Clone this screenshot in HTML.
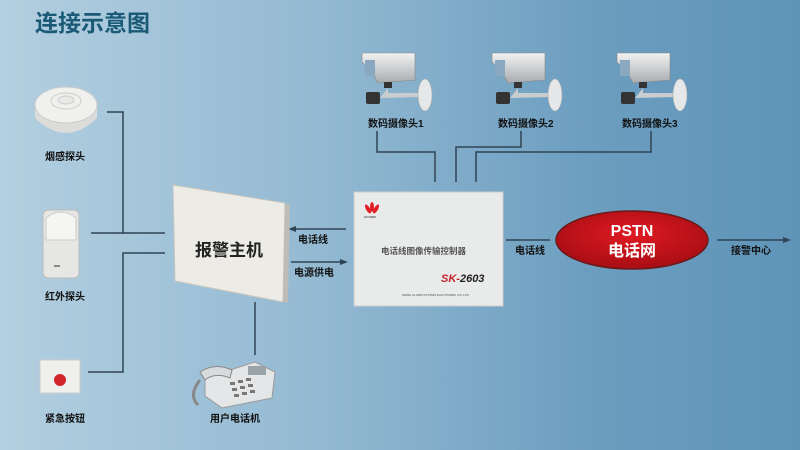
<!DOCTYPE html>
<html><head><meta charset="utf-8"><style>
html,body{margin:0;padding:0}
body{width:800px;height:450px;overflow:hidden;background:linear-gradient(90deg,#b3cfe0 0%,#93b9d2 40%,#6b9dbf 75%,#5f94b8 100%)}
svg{display:block}
text{font-family:"Liberation Sans","Noto Sans CJK SC",sans-serif;font-weight:bold}
</style></head><body>
<svg width="800" height="450" viewBox="0 0 800 450" xmlns="http://www.w3.org/2000/svg">
<defs>
<linearGradient id="cam" x1="0" y1="0" x2="0" y2="1"><stop offset="0" stop-color="#f2f2f2"/><stop offset="1" stop-color="#a8acb0"/></linearGradient>
<radialGradient id="red" cx="0.5" cy="0.4" r="0.6"><stop offset="0" stop-color="#e01a22"/><stop offset="1" stop-color="#a80d14"/></radialGradient>
<g id="camera">
<polygon points="2,3 55,3 55,30 18,33 12,22 2,12" fill="url(#cam)" stroke="#888" stroke-width="0.6"/>
<rect x="5" y="10" width="10" height="16" fill="#8aa9c0"/>
<rect x="24" y="32" width="8" height="6" fill="#333"/>
<path d="M28,38 L20,48 L62,47 L62,43 L28,43z" fill="#c9cdd0"/>
<rect x="6" y="42" width="14" height="12" rx="2" fill="#333"/>
<ellipse cx="65" cy="45" rx="7" ry="16" fill="#e5e7e8" stroke="#aaa" stroke-width="0.6"/>
</g>
</defs>
<text x="35" y="31" font-size="23" fill="#1a5a76">连接示意图</text>

<use href="#camera" x="360" y="50"/>
<use href="#camera" x="490" y="50"/>
<use href="#camera" x="615" y="50"/>
<text x="368" y="127" font-size="10" fill="#111">数码摄像头1</text>
<text x="498" y="127" font-size="10" fill="#111">数码摄像头2</text>
<text x="622" y="127" font-size="10" fill="#111">数码摄像头3</text>

<g stroke="#2f4455" stroke-width="1.5" fill="none">
<polyline points="377,131 377,152 435,152 435,182"/>
<polyline points="521,131 521,147 456,147 456,182"/>
<polyline points="651,131 651,152 476,152 476,182"/>
<polyline points="107,112 123,112 123,233 165,233"/>
<line x1="91" y1="233" x2="123" y2="233"/>
<polyline points="165,253 123,253 123,372 88,372"/>
<line x1="255" y1="302" x2="255" y2="355"/>
<line x1="290" y1="229" x2="346" y2="229"/>
<line x1="291" y1="262" x2="343" y2="262"/>
<line x1="506" y1="240" x2="550" y2="240"/>
<line x1="717" y1="240" x2="786" y2="240"/>
</g>
<g fill="#2f4455">
<polygon points="288,229 296,226 296,232"/>
<polygon points="348,262 340,259 340,265"/>
<polygon points="791,240 783,237 783,243"/>
</g>
<text x="298" y="243" font-size="10" fill="#111">电话线</text>
<text x="294" y="276" font-size="10" fill="#111">电源供电</text>
<text x="515" y="254" font-size="10" fill="#111">电话线</text>
<text x="731" y="254" font-size="10" fill="#111">接警中心</text>

<!-- smoke detector -->
<path d="M35,105 L35,118 Q66,148 97,118 L97,105z" fill="#dcdcda"/>
<ellipse cx="66" cy="105" rx="31" ry="18" fill="#f0f0ee" stroke="#ccc"/>
<ellipse cx="66" cy="101" rx="15" ry="8" fill="none" stroke="#ccc"/>
<ellipse cx="66" cy="100" rx="8" ry="4" fill="#e8e8e6" stroke="#ccc"/>
<text x="45" y="160" font-size="10" fill="#111">烟感探头</text>
<!-- PIR -->
<rect x="43" y="210" width="36" height="68" rx="5" fill="#e6e6e4" stroke="#bbb"/>
<path d="M46,218 Q61,206 76,218 L76,240 L46,240z" fill="#f5f5f3" stroke="#ccc"/>
<rect x="54" y="265" width="6" height="2" fill="#888"/>
<text x="45" y="300" font-size="10" fill="#111">红外探头</text>
<!-- button -->
<rect x="40" y="360" width="40" height="33" fill="#efefed" stroke="#ccc"/>
<circle cx="60" cy="380" r="6" fill="#d0262a"/>
<text x="45" y="422" font-size="10" fill="#111">紧急按钮</text>

<!-- host -->
<polygon points="173,185 285,203 283,302 175,281" fill="#ecebe6" stroke="#c8c6bf"/>
<polygon points="285,203 290,205 288,303 283,302" fill="#bdbcb6"/>
<text x="195" y="256" font-size="17" fill="#222">报警主机</text>
<!-- phone -->
<path d="M205,378 L255,362 L275,372 L272,398 L222,408 L205,396z" fill="#e4e6e7" stroke="#999"/>
<path d="M200,372 Q215,362 232,370 L230,378 Q215,372 205,380z" fill="#d8dadb" stroke="#888"/>
<rect x="248" y="366" width="18" height="9" fill="#9aa4a8"/>
<g fill="#777"><rect x="230" y="382" width="5" height="3"/><rect x="238" y="380" width="5" height="3"/><rect x="246" y="378" width="5" height="3"/><rect x="232" y="388" width="5" height="3"/><rect x="240" y="386" width="5" height="3"/><rect x="248" y="384" width="5" height="3"/><rect x="234" y="394" width="5" height="3"/><rect x="242" y="392" width="5" height="3"/><rect x="250" y="390" width="5" height="3"/></g>
<path d="M200,380 Q188,395 198,405" stroke="#888" stroke-width="3" fill="none"/>
<text x="210" y="422" font-size="10" fill="#111">用户电话机</text>

<!-- controller -->
<rect x="354" y="192" width="149" height="114" fill="#e9eaea" stroke="#ccc"/>
<g fill="#e21f26"><ellipse cx="372" cy="207" rx="2" ry="5"/><ellipse cx="368" cy="209" rx="2" ry="5" transform="rotate(-30 368 209)"/><ellipse cx="376" cy="209" rx="2" ry="5" transform="rotate(30 376 209)"/></g>
<text x="364" y="218" font-size="3" fill="#555">HUAWEI</text>
<text x="381" y="254" font-size="8.5" fill="#555" font-weight="normal">电话线图像传输控制器</text>
<text x="441" y="282" font-size="11" fill="#c4232a" font-style="italic">SK-<tspan fill="#222">2603</tspan></text>
<text x="402" y="296" font-size="3" fill="#777">SHIKE ALARM SYSTEM ELECTRONIC CO.,LTD</text>

<!-- PSTN -->
<ellipse cx="632" cy="240" rx="76" ry="29" fill="url(#red)" stroke="#6a1a1a" stroke-width="1.5"/>
<text x="632" y="236" font-size="16" fill="#fff" text-anchor="middle">PSTN</text>
<text x="632" y="256" font-size="16" fill="#fff" text-anchor="middle">电话网</text>
</svg>
</body></html>
